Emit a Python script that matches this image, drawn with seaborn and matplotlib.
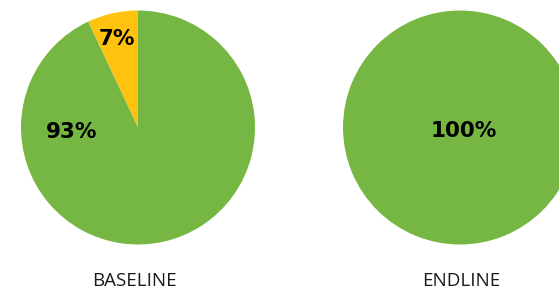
import matplotlib
matplotlib.use('Agg')
import matplotlib.pyplot as plt
import seaborn as sns

# data
groups = ['BASELINE', 'ENDLINE']
baseline_values = [7, 93]      # yellow, green
endline_values = [0, 100]
slice_colors = ['#FFC20E', '#76B743']

sns.set_theme(style='white')
plt.rcParams['font.family'] = ['Open Sans', 'DejaVu Sans']

fig = plt.figure(figsize=(5.59, 2.89), dpi=100)
W, H = 559, 289


def pie_axes(cx, cy, r):
    """axes of size 2r centred on (cx, cy) in pixel coords from top-left"""
    return fig.add_axes([(cx - r) / W, (H - cy - r) / H, 2 * r / W, 2 * r / H])


label_kw = dict(ha='center', va='center_baseline', fontsize=15.5, fontweight='bold',
                color='black', family=['DejaVu Sans'])

# baseline
ax1 = pie_axes(138, 127.5, 117)
ax1.pie(baseline_values, colors=slice_colors, startangle=90, counterclock=True,
        radius=1, wedgeprops=dict(linewidth=0))
ax1.set_xlim(-1, 1)
ax1.set_ylim(-1, 1)
ax1.text(-0.18, 0.77, f'{baseline_values[0]}%', **label_kw)
ax1.text(-0.57, -0.02, f'{baseline_values[1]}%', **label_kw)
ax1.axis('off')

# endline
ax2 = pie_axes(460, 127.5, 117)
ax2.pie([v for v in endline_values if v > 0], colors=slice_colors[1:], startangle=90,
        radius=1, wedgeprops=dict(linewidth=0))
ax2.set_xlim(-1, 1)
ax2.set_ylim(-1, 1)
ax2.text(0.03, -0.015, f'{endline_values[1]}%', **label_kw)
ax2.axis('off')

fig.text(134 / W, 1 - 280.5 / H, groups[0], ha='center', va='center', fontsize=13.5, color='#1a1a1a')
fig.text(461.5 / W, 1 - 280.5 / H, groups[1], ha='center', va='center', fontsize=13.5, color='#1a1a1a')

fig.savefig('out.png', dpi=100)
